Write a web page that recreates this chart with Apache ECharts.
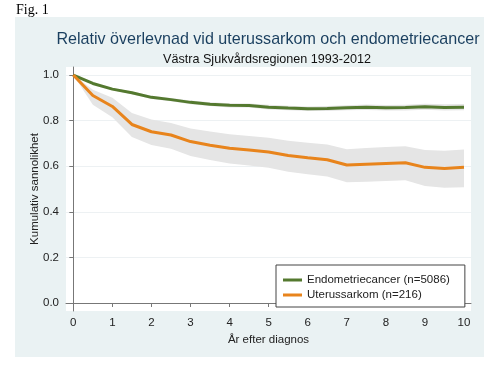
<!DOCTYPE html>
<html>
<head>
<meta charset="utf-8">
<script src="https://cdn.jsdelivr.net/npm/echarts@6/dist/echarts.min.js"></script>
<style>
html,body{margin:0;padding:0;background:#fff;}
#panel{position:absolute;left:15px;top:17px;width:469px;height:340px;background:#eaf2f3;}
#c{position:absolute;left:0;top:0;width:498px;height:366px;}
</style>
</head>
<body>
<div id="panel"></div>
<div id="c"></div>
<script>
var years = [0,0.5,1,1.5,2,2.5,3,3.5,4,4.5,5,5.5,6,6.5,7,7.5,8,8.5,9,9.5,10];
var endoValues = [1.0,0.963,0.938,0.922,0.902,0.892,0.880,0.872,0.867,0.866,0.859,0.855,0.852,0.853,0.856,0.859,0.856,0.857,0.861,0.858,0.859];
var endoLower  = [1.0,0.960,0.933,0.916,0.895,0.885,0.872,0.864,0.858,0.857,0.849,0.845,0.842,0.842,0.845,0.847,0.844,0.844,0.848,0.844,0.845];
var endoUpper  = [1.0,0.966,0.943,0.928,0.909,0.899,0.888,0.880,0.876,0.875,0.869,0.865,0.862,0.864,0.867,0.871,0.868,0.870,0.874,0.872,0.873];
var uteroValues = [1.0,0.910,0.862,0.783,0.751,0.737,0.708,0.692,0.679,0.671,0.662,0.647,0.637,0.628,0.605,0.609,0.612,0.615,0.595,0.590,0.595];
var uteroLower  = [1.0,0.870,0.815,0.728,0.693,0.676,0.645,0.627,0.612,0.603,0.593,0.576,0.565,0.555,0.530,0.532,0.535,0.538,0.513,0.505,0.508];
var uteroUpper  = [1.0,0.935,0.900,0.833,0.805,0.790,0.765,0.752,0.740,0.733,0.725,0.712,0.703,0.695,0.674,0.680,0.684,0.688,0.671,0.668,0.673];
var xTicks = [0,1,2,3,4,5,6,7,8,9,10];
var yTicks = [0,0.2,0.4,0.6,0.8,1.0];
var seriesNames = ['Endometriecancer (n=5086)','Uterussarkom (n=216)'];

function pairs(vals){ return years.map(function(x,i){ return [x, vals[i]]; }); }

function bandSeries(lower, upper){
  return {
    type:'custom', silent:true, z:1,
    data:[[0]],
    renderItem:function(params, api){
      var pts = [];
      for (var i=0;i<years.length;i++) pts.push(api.coord([years[i], upper[i]]));
      for (var j=years.length-1;j>=0;j--) pts.push(api.coord([years[j], lower[j]]));
      return {type:'polygon', shape:{points:pts}, style:{fill:'#e5e5e5', stroke:null}};
    }
  };
}

var chart = echarts.init(document.getElementById('c'), null, {renderer:'canvas'});
chart.setOption({
  animation:false,
  backgroundColor:'transparent',
  title:[
    {text:'Fig. 1', left:16, top:3, padding:0, textStyle:{fontFamily:'Liberation Serif', fontSize:14, fontWeight:'normal', color:'#000'}},
    {text:'Relativ överlevnad vid uterussarkom och endometriecancer', left:268, top:32, padding:0, textAlign:'center',
     textStyle:{fontFamily:'Liberation Sans', fontSize:16.1, fontWeight:'normal', color:'#1a3f5f'}},
    {text:'Västra Sjukvårdsregionen 1993-2012', left:267, top:53, padding:0, textAlign:'center',
     textStyle:{fontFamily:'Liberation Sans', fontSize:12.6, fontWeight:'normal', color:'#111'}}
  ],
  grid:{left:66, right:27, top:67, bottom:55, show:true, backgroundColor:'#fff', borderWidth:0},
  xAxis:{
    type:'value', min:-0.187, max:10.179,
    name:'År efter diagnos', nameLocation:'middle', nameGap:19,
    nameTextStyle:{fontFamily:'Liberation Sans', fontSize:11.5, color:'#222'},
    axisLine:{show:true, lineStyle:{color:'#777', width:1}},
    axisTick:{show:true, length:4, lineStyle:{color:'#777'}, customValues:xTicks},
    axisLabel:{customValues:xTicks, margin:6, fontFamily:'Liberation Sans', fontSize:11.5, color:'#222'},
    splitLine:{show:false}
  },
  yAxis:{
    type:'value', min:-0.0351, max:1.0351,
    name:'Kumulativ sannolikhet', nameLocation:'middle', nameGap:25, nameMoveOverlap:false,
    nameTextStyle:{fontFamily:'Liberation Sans', fontSize:11.5, color:'#222'},
    axisLine:{show:true, lineStyle:{color:'#777', width:1}},
    axisTick:{show:true, length:4, lineStyle:{color:'#777'}, customValues:yTicks},
    axisLabel:{customValues:yTicks, margin:7, fontFamily:'Liberation Sans', fontSize:11.5, color:'#222',
      formatter:function(v){ return v.toFixed(1); }},
    splitLine:{show:true, lineStyle:{color:'#edf1f3', width:1}}
  },
  legend:{
    data:seriesNames, orient:'vertical', left:276, top:265,
    backgroundColor:'#fff', borderColor:'#444', borderWidth:1,
    padding:[9,15,6,7], itemGap:3, itemWidth:19, itemHeight:3, icon:'rect',
    textStyle:{fontFamily:'Liberation Sans', fontSize:11.5, color:'#222'}
  },
  series:[
    bandSeries(uteroLower, uteroUpper),
    bandSeries(endoLower, endoUpper),
    {type:'line', name:seriesNames[0], data:pairs(endoValues), symbol:'none', color:'#54792f', lineStyle:{width:3, color:'#54792f'}, z:5},
    {type:'line', name:seriesNames[1], data:pairs(uteroValues), symbol:'none', color:'#e8841c', lineStyle:{width:3, color:'#e8841c'}, z:5}
  ]
});
</script>
</body>
</html>
